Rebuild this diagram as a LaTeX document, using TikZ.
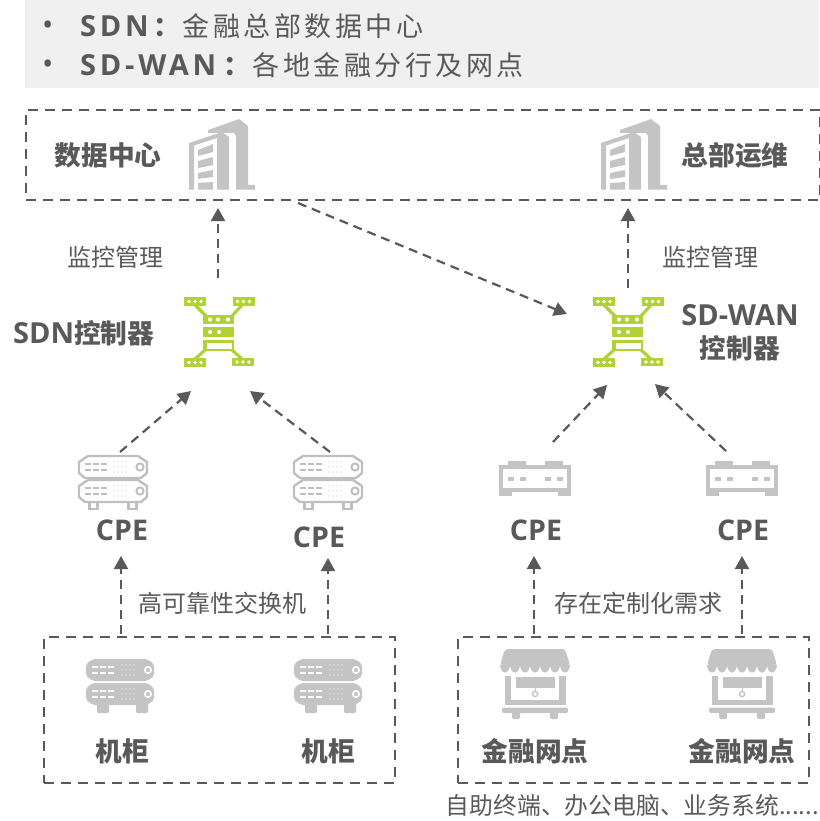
\documentclass[tikz,border=0pt]{standalone}
\usepackage{fontspec}
\setmainfont{Noto Sans CJK SC}
\newfontfamily\latf{Open Sans}
\newfontfamily\topf[LetterSpace=13]{Noto Sans CJK SC}
\newfontfamily\toplat[LetterSpace=13]{Open Sans}
\usetikzlibrary{arrows.meta}
\definecolor{txt}{HTML}{595959}
\definecolor{ico}{HTML}{C4C4C4}
\definecolor{icoo}{HTML}{BFBFBF}
\definecolor{grn}{HTML}{B0D235}
\definecolor{band}{HTML}{F0F0F0}
\newcommand{\srvout}{%
  \draw[icoo,line width=2.4pt,fill=white,line join=round] (-34,-5) -- (-25,-11) -- (25,-11) -- (34,-5) -- (34,6) -- (28,11) -- (-28,11) -- (-34,6) -- cycle;
  \foreach \yy in {-3,3}{\foreach \xa in {-28,-20,-12}{\draw[icoo,line width=1.5pt] (\xa,\yy) -- ++(6,0);}}
  \foreach \xa in {1,5,9,13}{\foreach \yy in {-5,0,5}{\fill[icoo] (\xa,\yy) circle (.7);}}
  \draw[icoo,line width=2pt] (27,0) circle (3.6);}
\newcommand{\srvfill}{%
  \fill[ico,rounded corners=2pt] (-34,-6) -- (-27,-11) -- (27,-11) -- (34,-6) -- (34,6) -- (27,11) -- (-27,11) -- (-34,6) -- cycle;
  \foreach \yy in {-3,3}{\foreach \xa in {-28,-20,-12}{\fill[white] (\xa,\yy-.9) rectangle ++(6,1.8);}}
  \foreach \xa in {2,6,10,14}{\foreach \yy in {-5,0,5}{\fill[white] (\xa,\yy) circle (.7);}}
  \draw[white,line width=1.6pt] (28,0) circle (3.2);}
\tikzset{
  lbl/.style={text=txt,font=\fontsize{24}{28}\selectfont,inner sep=0pt},
  blbl/.style={text=txt,font=\fontsize{26.7}{33}\selectfont\bfseries,inner sep=0pt,align=center},
  blat/.style={text=txt,font=\fontsize{28.5}{32}\selectfont\bfseries,inner sep=0pt,align=center},
  toptxt/.style={text=txt,font=\fontsize{27}{30}\selectfont,inner sep=0pt,anchor=west},
  dbox/.style={draw=txt,line width=1.7pt,dash pattern=on 10pt off 7pt},
  conn/.style={draw=txt,line width=2.2pt,dash pattern=on 9pt off 6pt,-{Triangle[length=13pt,width=14pt]}},
  buildingicon/.pic={
    \fill[ico] (38,30) -- (69,19) -- (78,26) -- (78,85) -- (85,85) -- (85,89.5) -- (66,89.5) -- (66,36) -- (64,33) -- (38,33) -- cycle;
    \fill[ico] (19,43) -- (52,32) -- (59,37) -- (59,89.5) -- (47,89.5) -- (47,38) -- (24,45.5) -- (24,89.5) -- (19,89.5) -- cycle;
    \fill[ico] (28,50) -- (43,44) -- (43,52) -- (28,56) -- cycle;
    \fill[ico] (28,61) -- (43,57) -- (43,65) -- (28,68) -- cycle;
    \fill[ico] (28,73) -- (43,70) -- (43,77) -- (28,79) -- cycle;
    \fill[ico] (28,83) -- (43,82) -- (43,89.5) -- (28,89.5) -- cycle;
  },
  ctrlicon/.pic={
    \draw[grn,line width=3.2pt] (-24,-27) -- (-13,-16) (23,-27) -- (13,-16) (-24,27) -- (-14,18) (23,27) -- (13,18);
    \foreach \xc/\yc in {-24/-30.5,24.5/-30.5,-24/30.5,24/30}{
      \fill[grn] (\xc-11,\yc-4.3) rectangle (\xc+11,\yc+4.3);
      \foreach \d in {-6,0,6}{\fill[white] (\xc+\d,\yc) circle (1.9);}}
    \fill[grn] (-16,-17) rectangle (15,-8);
    \foreach \d in {-9,-1,9}{\fill[white] (\d,-12.5) circle (2.1);}
    \fill[grn] (-16,-5) rectangle (15,5);
    \foreach \d in {-9,0}{\fill[white] (\d,0) circle (2.1);}
    \fill[grn] (-16,8) rectangle (15,19);
    \fill[white] (-12,11) rectangle (13,17);
  },
  srvoicon/.pic={
    \fill[icoo] (-25,19) rectangle (-14,27);
    \fill[icoo] (14,19) rectangle (25,27);
    \fill[white] (-22,19) rectangle (-17,24.5);
    \fill[white] (17,19) rectangle (22,24.5);
    \begin{scope}[shift={(0,-16)}]\srvout\end{scope}
    \begin{scope}[shift={(0,8)}]\srvout\end{scope}
  },
  srvficon/.pic={
    \fill[ico,rounded corners=1.5pt] (-23,16) rectangle (-11,27);
    \fill[ico,rounded corners=1.5pt] (16,16) rectangle (28,27);
    \begin{scope}[shift={(0,-16)}]\srvfill\end{scope}
    \begin{scope}[shift={(0,8)}]\srvfill\end{scope}
  },
  switchicon/.pic={
    \fill[ico] (-36,-14) rectangle (36,17);
    \fill[white] (-32,-10) rectangle (32,9);
    \fill[ico] (-27,-18) rectangle (-9,-14);
    \fill[ico] (10,-18) rectangle (28,-14);
    \fill[white] (-23,13) rectangle (23,17.5);
    \foreach \xa in {-27,-15.5,10,22}{\fill[ico] (\xa,-2) rectangle ++(6,4);}
  },
  shopicon/.pic={
    \fill[ico,rounded corners=3pt] (-35,-19) -- (-30,-35) -- (30,-35) -- (35,-19) -- cycle;
    \foreach \i in {0,...,6}{\fill[ico] (-30+10*\i,-19.5) ++(-5,0) arc[start angle=180,end angle=0,x radius=5,y radius=8];}
    \fill[ico] (-30,-8) rectangle (-24,21);
    \fill[ico] (24,-8) rectangle (31,21);
    \fill[ico] (-24,16) rectangle (24,21);
    \fill[ico] (-19,-7) rectangle (20,4);
    \draw[ico,line width=1pt] (0,4) -- (0,7.5);
    \draw[ico,line width=1.4pt] (0,10) circle (2.6);
    \fill[ico,rounded corners=2pt] (-33,23.5) rectangle (33,29);
    \fill[ico,rounded corners=1.5pt] (-23,26) rectangle (-15,35);
    \fill[ico,rounded corners=1.5pt] (15,26) rectangle (23,35);
  }
}
\begin{document}
\begin{tikzpicture}[x=1pt,y=-1pt]
\useasboundingbox (0,0) rectangle (819,821);
\fill[band] (25,0) rectangle (819,88);
\node[toptxt] (b1) at (42,28) {{\latf\fontsize{30}{30}\selectfont •}};
\node[toptxt] (b2) at (42,67) {{\latf\fontsize{30}{30}\selectfont •}};
\node[toptxt] (t1) at (80,26) {{\toplat\fontsize{29}{30}\selectfont\bfseries SDN}\hspace{5pt}{\topf\bfseries ：}\hspace{2pt}{\topf 金融总部数据中心}};
\node[toptxt] (t2) at (80,65) {{\toplat\fontsize{29}{30}\selectfont\bfseries SD-WAN}\hspace{7pt}{\topf\bfseries ：}\hspace{2.5pt}{\topf 各地金融分行及网点}};

\node[dbox,minimum width=794pt,minimum height=90pt,inner sep=0pt,anchor=north west] (topbox) at (25,109) {};
\node[dbox,minimum width=351pt,minimum height=146pt,inner sep=0pt,anchor=north west] (boxl) at (43,636) {};
\node[dbox,minimum width=351pt,minimum height=146pt,inner sep=0pt,anchor=north west] (boxr) at (457,636) {};

\pic at (170,100) {buildingicon};
\pic at (582,100) {buildingicon};
\pic at (219,332) {ctrlicon};
\pic at (628,332) {ctrlicon};
\pic at (113,483) {srvoicon};
\pic at (328,483) {srvoicon};
\pic at (535,479) {switchicon};
\pic at (742,479) {switchicon};
\pic at (120,686) {srvficon};
\pic at (328,686) {srvficon};
\pic at (535,684) {shopicon};
\pic at (742,684) {shopicon};

\node[blbl] (dc) at (108,155) {数据中心};
\node[blbl] (hq) at (735,155) {总部运维};
\node[lbl] (m1) at (115,257) {监控管理};
\node[lbl] (m2) at (710,257) {监控管理};
\node[blbl,anchor=west] (sdn) at (13,333) {{\latf\bfseries\fontsize{29}{33}\selectfont SDN}控制器};
\node[blbl] (sdw) at (740,333) {{\latf\bfseries\fontsize{29}{33}\selectfont SD-WAN}\\控制器};
\node[blat] (c1) at (122,530) {\latf\bfseries CPE};
\node[blat] (c2) at (319,537) {\latf\bfseries CPE};
\node[blat] (c3) at (536,530) {\latf\bfseries CPE};
\node[blat] (c4) at (743,530) {\latf\bfseries CPE};
\node[lbl] (hs) at (222,603) {高可靠性交换机};
\node[lbl] (cu) at (638,603) {存在定制化需求};
\node[blbl] (r1) at (122,751) {机柜};
\node[blbl] (r2) at (328,751) {机柜};
\node[blbl] (f1) at (535,751) {金融网点};
\node[blbl] (f2) at (742,751) {金融网点};
\node[lbl,anchor=east,font=\fontsize{23.8}{28}\selectfont] (tail) at (819,805) {自助终端、办公电脑、业务系统......};

\coordinate (a1s) at (218,278); \coordinate (a1e) at (218,208);
\coordinate (a2s) at (628,288); \coordinate (a2e) at (628,208);
\coordinate (a3s) at (298,203); \coordinate (a3e) at (567,314);
\coordinate (a4s) at (120,452); \coordinate (a4e) at (191,391);
\coordinate (a5s) at (330,452); \coordinate (a5e) at (250,391);
\coordinate (a6s) at (553,442); \coordinate (a6e) at (607,385);
\coordinate (a7s) at (726,451); \coordinate (a7e) at (655,384);
\coordinate (a8s) at (121,634); \coordinate (a8e) at (121,556);
\coordinate (a9s) at (328,634); \coordinate (a9e) at (328,558);
\coordinate (a10s) at (534,634); \coordinate (a10e) at (534,556);
\coordinate (a11s) at (742,634); \coordinate (a11e) at (742,556);
\foreach \n in {1,...,11}{\draw[conn] (a\n s) -- (a\n e);}
\end{tikzpicture}
\end{document}
